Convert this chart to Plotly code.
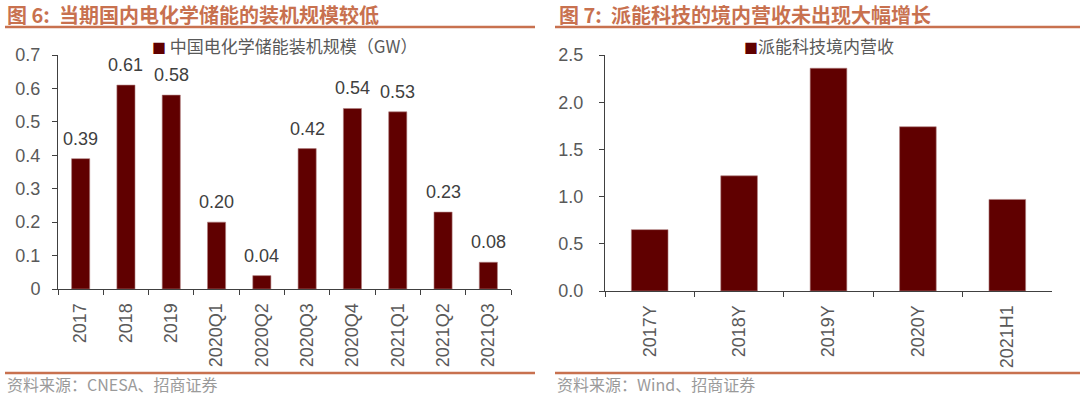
import plotly.graph_objects as go

# Left chart data
cats_left = ["2017", "2018", "2019", "2020Q1", "2020Q2", "2020Q3", "2020Q4", "2021Q1", "2021Q2", "2021Q3"]
vals_left = [0.39, 0.61, 0.58, 0.20, 0.04, 0.42, 0.54, 0.53, 0.23, 0.08]
yticks_left = [0, 0.1, 0.2, 0.3, 0.4, 0.5, 0.6, 0.7]
series_left = "中国电化学储能装机规模（GW）"
title_left = "图 6:  当期国内电化学储能的装机规模较低"
source_left = "资料来源：CNESA、招商证券"

# Right chart data
cats_right = ["2017Y", "2018Y", "2019Y", "2020Y", "2021H1"]
vals_right = [0.65, 1.22, 2.36, 1.74, 0.97]
yticks_right = [0.0, 0.5, 1.0, 1.5, 2.0, 2.5]
series_right = "派能科技境内营收"
title_right = "图 7:  派能科技的境内营收未出现大幅增长"
source_right = "资料来源：Wind、招商证券"

BAR = "#600000"
TITLE_C = "#C8714F"
AX = "#404040"
TXT = "#595959"
W, H = 1080, 396
LAT = "Liberation Sans, Arial, sans-serif"
CJK = "Noto Sans CJK SC, sans-serif"

def px(x):
    return x / W

def py(y):
    return 1 - y / H

fig = go.Figure()
fig.add_trace(go.Bar(x=cats_left, y=vals_left, marker=dict(color=BAR, line=dict(color="#B08080", width=0.6)),
                     width=0.4, xaxis="x", yaxis="y", showlegend=False, name=series_left))
fig.add_trace(go.Bar(x=cats_right, y=vals_right, marker=dict(color=BAR, line=dict(color="#B08080", width=0.6)),
                     width=0.41, xaxis="x2", yaxis="y2", showlegend=False, name=series_right))

axis_common = dict(showline=True, linecolor=AX, linewidth=1, ticks="outside", tickcolor=AX,
                   ticklen=5, showgrid=False, zeroline=False, automargin=False,
                   tickfont=dict(family=LAT, size=18, color=TXT))

fig.update_layout(
    width=W, height=H, margin=dict(l=0, r=0, t=0, b=0, pad=0, autoexpand=False),
    paper_bgcolor="white", plot_bgcolor="white",
    xaxis=dict(domain=[px(58), px(511)], anchor="y", type="category", tickangle=-90,
               tickson="boundaries", range=[-0.5, len(cats_left) - 0.5], ticklabelstandoff=6, **axis_common),
    yaxis=dict(domain=[py(289), py(55)], anchor="x", range=[0, 0.7], tickvals=yticks_left,
               ticktext=[("%g" % v) for v in yticks_left], ticklabelstandoff=8, **axis_common),
    xaxis2=dict(domain=[px(605), px(1052)], anchor="y2", type="category", tickangle=-90,
                tickson="boundaries", range=[-0.5, len(cats_right) - 0.5], ticklabelstandoff=6, **axis_common),
    yaxis2=dict(domain=[py(291), py(55)], anchor="x2", range=[0, 2.5], tickvals=yticks_right,
                tickformat=".1f", ticklabelstandoff=12, **axis_common),
)

ann = []
for i, v in enumerate(vals_left):
    ann.append(dict(x=i, y=v, xref="x", yref="y", text="%.2f" % v, showarrow=False,
                    yanchor="bottom", yshift=8, font=dict(family=LAT, size=18, color=AX)))

# Titles
ann.append(dict(x=px(5), y=py(14), xref="paper", yref="paper", text="<b>" + title_left + "</b>",
                showarrow=False, xanchor="left", yanchor="middle", font=dict(family=CJK, size=20, color=TITLE_C)))
ann.append(dict(x=px(557), y=py(14), xref="paper", yref="paper", text="<b>" + title_right + "</b>",
                showarrow=False, xanchor="left", yanchor="middle", font=dict(family=CJK, size=20, color=TITLE_C)))
# Sources
ann.append(dict(x=px(5), y=py(384), xref="paper", yref="paper", text=source_left,
                showarrow=False, xanchor="left", yanchor="middle", font=dict(family=CJK, size=16, color="#9A9A9A")))
ann.append(dict(x=px(555), y=py(384), xref="paper", yref="paper", text=source_right,
                showarrow=False, xanchor="left", yanchor="middle", font=dict(family=CJK, size=16, color="#9A9A9A")))
# Legends
ann.append(dict(x=px(150), y=py(45), xref="paper", yref="paper",
                text="<span style='color:%s;font-size:14px'>■</span> %s" % (BAR, series_left),
                showarrow=False, xanchor="left", yanchor="middle", font=dict(family=CJK, size=17, color=TXT)))
ann.append(dict(x=px(742), y=py(45), xref="paper", yref="paper",
                text="<span style='color:%s;font-size:14px'>■</span>%s" % (BAR, series_right),
                showarrow=False, xanchor="left", yanchor="middle", font=dict(family=CJK, size=17, color=TXT)))
fig.update_layout(annotations=ann)

# Rules
shapes = []
for x0, x1 in [(5, 535), (555, 1080)]:
    for y in (27, 373):
        shapes.append(dict(type="line", xref="paper", yref="paper", x0=px(x0), x1=px(x1), y0=py(y), y1=py(y),
                           line=dict(color=TITLE_C, width=2.5)))
fig.update_layout(shapes=shapes)

fig.write_html("out.html", config={"displayModeBar": False},
               post_script="document.body.style.margin='0';document.body.style.overflow='hidden';")
